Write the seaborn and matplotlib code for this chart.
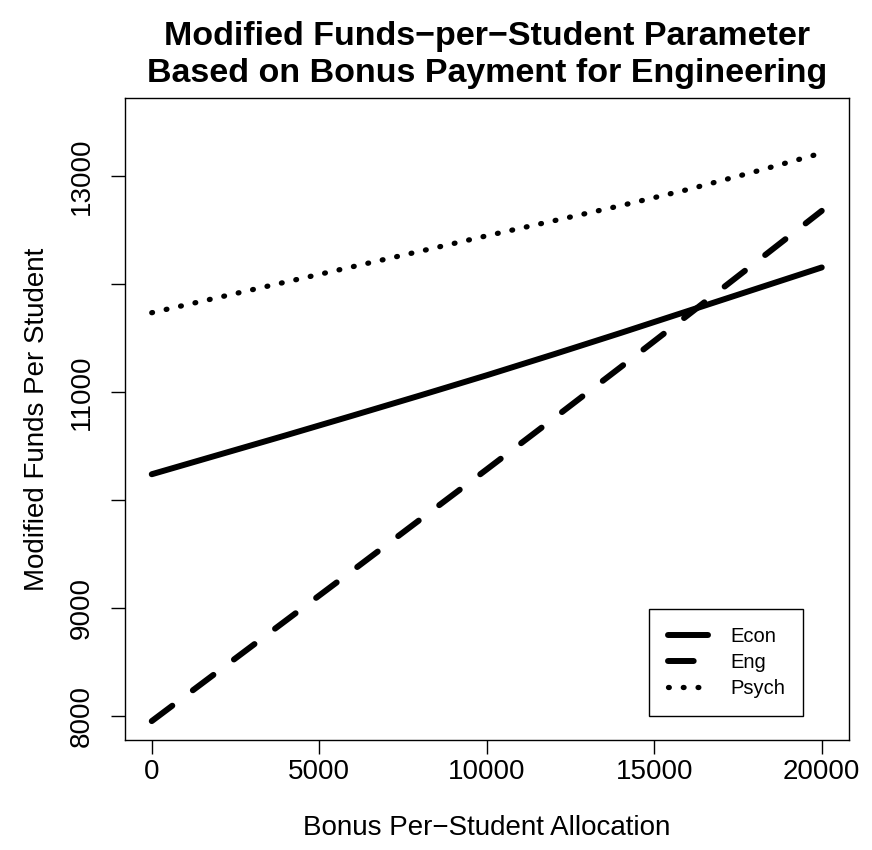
import numpy as np
import pandas as pd
import matplotlib
matplotlib.use("Agg")
import matplotlib.pyplot as plt
import seaborn as sns

# Bonus per-student allocation (x) and resulting funds per student by department
bonus = [0, 2000, 4000, 6000, 8000, 10000, 12000, 14000, 16000, 18000, 20000]
econ = [10240, 10420, 10600, 10783, 10968, 11156, 11350, 11548, 11750, 11952, 12154]
eng = [7955, 8420, 8885, 9350, 9818, 10285, 10757, 11232, 11712, 12194, 12678]
psych = [11735, 11877, 12019, 12161, 12303, 12447, 12586, 12726, 12875, 13040, 13213]

series_names = ["Econ", "Eng", "Psych"]
yticks = [8000, 9000, 10000, 11000, 12000, 13000]
ytick_labels = ["8000", "9000", "", "11000", "", "13000"]
xticks = [0, 5000, 10000, 15000, 20000]

df = pd.DataFrame({"bonus": bonus, "Econ": econ, "Eng": eng, "Psych": psych})
long = df.melt(id_vars="bonus", var_name="dept", value_name="funds")

sns.set_style("white")
plt.rcParams["font.family"] = ["Liberation Sans", "DejaVu Sans"]
plt.rcParams["text.color"] = "black"
plt.rcParams["axes.labelcolor"] = "black"
plt.rcParams["xtick.color"] = "black"
plt.rcParams["ytick.color"] = "black"

fig = plt.figure(figsize=(8.72, 8.5), dpi=100)
ax = fig.add_axes([0.1433, 0.1294, 0.9731 - 0.1433, 0.8844 - 0.1294])

styles = {
    "Econ": dict(lw=4.3, ls="-"),
    "Eng": dict(lw=4.3, ls=(0, (4.3, 4.3))),
    "Psych": dict(lw=3.8, ls=(0, (0.15, 2.65))),
}

for name in series_names:
    sub = long[long["dept"] == name]
    sns.lineplot(data=sub, x="bonus", y="funds", ax=ax, color="black",
                 label=name, legend=False, linewidth=styles[name]["lw"])
    line = ax.lines[-1]
    line.set_linestyle(styles[name]["ls"])
    line.set_dash_capstyle("round")
    line.set_solid_capstyle("round")

# R-style 4% padding around the data range
ax.set_xlim(-800, 20800)
ax.set_ylim(8000 - 0.04 * 5500, 13500 + 0.04 * 5500)

ax.set_xticks(xticks)
ax.set_xticklabels([str(v) for v in xticks], fontsize=20)
ax.set_yticks(yticks)
ax.set_yticklabels(ytick_labels, fontsize=20, rotation=90, va="center")
ax.tick_params(axis="both", which="major", direction="out", length=10,
               width=1, color="black", bottom=True, left=True)
ax.tick_params(axis="x", pad=4)
ax.tick_params(axis="y", pad=12)

for spine in ax.spines.values():
    spine.set_visible(True)
    spine.set_color("black")
    spine.set_linewidth(1.0)

ax.set_xlabel("Bonus Per\u2212Student Allocation", fontsize=20, labelpad=21)
ax.set_ylabel("Modified Funds Per Student", fontsize=20, labelpad=13)

ax.set_title("Modified Funds\u2212per\u2212Student Parameter\nBased on Bonus Payment for Engineering",
             fontsize=24.5, fontweight="bold", pad=12, linespacing=1.22)

handles = ax.lines[:3]
leg = ax.legend(handles, series_names, loc="lower right",
                bbox_to_anchor=(0.937, 0.037), borderaxespad=0,
                fontsize=14.5, frameon=True, fancybox=False,
                edgecolor="black", framealpha=1, borderpad=0.9,
                handlelength=2.0, handletextpad=1.1, labelspacing=0.35)
leg.get_frame().set_linewidth(1.0)

fig.savefig("out.png", dpi=100, facecolor="white")
